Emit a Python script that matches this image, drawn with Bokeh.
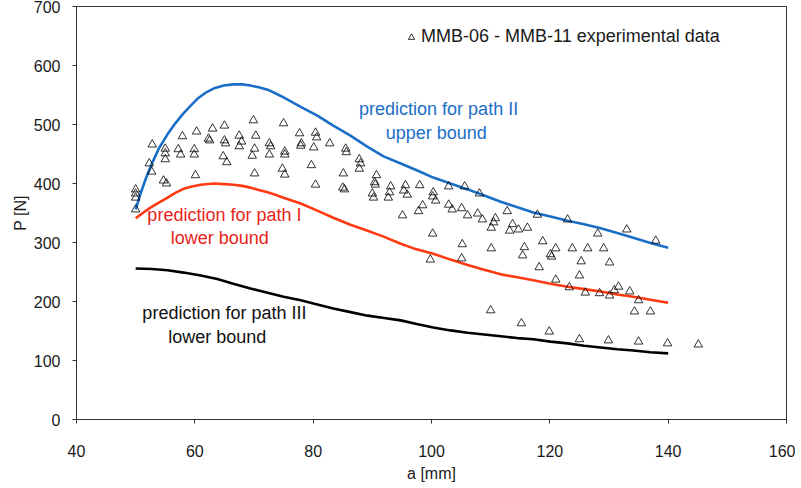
from bokeh.plotting import figure
from bokeh.models import Range1d, FixedTicker, Legend, LegendItem, Label
from bokeh.embed import file_html
from bokeh.resources import INLINE

# ---------------- data ----------------
a_exp = [50.0, 50.0, 50.0, 50.0, 52.8, 52.3, 52.7, 54.7, 55.2, 55.0, 55.0, 55.0,
         57.2, 57.6, 57.9, 59.9, 59.9, 60.3, 60.1, 62.3, 62.5, 63.0, 64.8, 65.4,
         65.0, 65.0, 65.2, 67.5, 67.5, 67.9, 69.9, 70.3, 70.1, 69.7, 70.1, 72.6,
         72.8, 72.6, 75.0, 75.2, 75.2, 74.8, 75.2, 77.7, 78.0, 77.9, 80.4, 80.6,
         80.1, 79.7, 80.4, 82.8, 85.5, 85.6, 85.1, 85.0, 85.3, 87.8, 88.0, 87.8,
         90.7, 90.4, 90.5, 90.0, 90.2, 93.1, 92.9, 92.7, 95.6, 95.3, 95.9, 95.1,
         98.0, 98.5, 97.8, 100.3, 100.2, 100.7, 100.2, 102.9, 102.9, 103.5, 105.1, 106.1,
         105.6, 108.1, 107.8, 108.6, 110.8, 110.5, 110.1, 112.8, 113.7, 113.2, 114.7, 116.2,
         117.9, 123.0, 128.1, 133.0, 137.9, 105.2, 110.1, 115.7, 118.8, 121.0, 123.8, 126.4,
         129.1, 99.8, 105.1, 110.0, 115.2, 119.9, 125.0, 129.9, 135.0, 139.9, 145.1, 115.4,
         120.1, 120.3, 118.2, 125.3, 130.1, 121.0, 125.0, 123.3, 126.0, 128.4, 130.1, 130.9,
         131.6, 133.5, 135.0, 134.3, 137.0]
P_exp = [390, 383, 376, 356, 466, 434, 420, 405, 400, 459, 451, 441,
         458, 449, 480, 458, 449, 488, 414, 476, 473, 493, 446, 436,
         498, 473, 468, 481, 463, 471, 507, 481, 459, 447, 417, 468,
         463, 449, 502, 454, 449, 425, 415, 485, 468, 464, 486, 478,
         461, 431, 398, 468, 459, 453, 417, 393, 390, 441, 434, 425,
         414, 402, 398, 383, 376, 395, 385, 376, 397, 388, 381, 346,
         397, 363, 353, 385, 378, 371, 315, 395, 364, 356, 358, 346,
         395, 383, 349, 339, 341, 334, 325, 353, 331, 320, 322, 325,
         347, 339, 315, 322, 303, 297, 290, 292, 302, 290, 290, 290,
         290, 271, 273, 185, 163, 149, 136, 134, 132, 129, 127, 278,
         280, 276, 258, 268, 266, 237, 244, 224, 215, 214, 210, 219,
         225, 217, 202, 183, 183]

a_path2 = [50.0, 50.8, 51.7, 52.8, 53.9, 55.3, 56.7, 58.0, 59.3, 60.6, 62.0, 63.4,
           64.9, 66.5, 68.0, 69.4, 70.8, 72.3, 73.6, 75.0, 77.9, 80.7, 83.4, 86.3,
           89.2, 91.9, 94.8, 97.6, 100.3, 103.2, 106.1, 108.8, 111.7, 114.4, 117.2, 120.1,
           123.0, 125.8, 128.6, 131.4, 134.1, 137.0, 140.0]
P_path2 = [356, 382, 408, 435, 459, 482, 502, 518, 532, 545, 555, 562,
           566, 568, 568, 566, 563, 559, 553, 546, 530, 515, 498, 481,
           462, 446, 434, 422, 410, 400, 390, 380, 369, 360, 351, 344,
           337, 331, 324, 316, 308, 299, 291]

a_path1 = [50.0, 51.2, 52.5, 54.0, 55.4, 56.7, 58.1, 59.5, 61.0, 63.2, 65.0, 66.5,
           68.0, 69.4, 70.8, 72.3, 73.6, 75.0, 77.9, 80.7, 83.4, 86.3, 89.2, 91.9,
           94.8, 97.0, 100.3, 103.2, 106.1, 108.9, 111.7, 114.5, 117.2, 120.1, 123.0, 125.8,
           128.6, 131.4, 134.1, 137.0, 140.0]
P_path1 = [341, 350, 359, 368, 376, 384, 391, 395, 398, 400, 399, 398,
           396, 393, 389, 385, 381, 376, 366, 354, 342, 330, 320, 310,
           298, 290, 281, 271, 262, 254, 246, 241, 236, 230, 225, 221,
           217, 212, 208, 203, 198]

a_path3 = [50.0, 52.7, 55.4, 58.1, 61.0, 63.8, 66.5, 69.4, 72.3, 75.0, 77.9, 80.7,
           83.4, 86.3, 89.2, 92.0, 94.8, 97.5, 100.3, 103.2, 106.1, 108.9, 111.7, 114.5,
           117.2, 120.1, 123.0, 125.8, 128.6, 131.4, 134.1, 137.0, 140.0]
P_path3 = [256, 255, 253, 249, 244, 238, 230, 222, 215, 208, 202, 195,
           188, 182, 176, 172, 168, 162, 156, 151, 147, 144, 141, 138,
           136, 132, 129, 125, 122, 119, 117, 114, 112]

x_ticks = [40, 60, 80, 100, 120, 140, 160]
y_ticks = [0, 100, 200, 300, 400, 500, 600, 700]

FONT = "Liberation Sans"
BLUE = "#1B6EC6"
RED = "#FF3A12"
RED_TXT = "#E8231C"
AXC = "#333333"

# ---------------- figure ----------------
p = figure(width=795, height=488, x_range=Range1d(40, 160), y_range=Range1d(0, 700),
           output_backend="svg", toolbar_location=None,
           min_border_left=76, min_border_right=9, min_border_top=6, min_border_bottom=69)
p.xgrid.visible = False
p.ygrid.visible = False
p.outline_line_color = AXC
p.outline_line_width = 1
p.background_fill_color = "white"
p.border_fill_color = "white"

p.xaxis.ticker = FixedTicker(ticks=x_ticks)
p.yaxis.ticker = FixedTicker(ticks=y_ticks)
for ax in (p.xaxis, p.yaxis):
    ax.axis_line_color = AXC
    ax.major_tick_line_color = AXC
    ax.major_tick_in = 0
    ax.major_tick_out = 4
    ax.minor_tick_line_color = None
    ax.major_label_text_font = FONT
    ax.major_label_text_font_size = "16px"
    ax.major_label_text_color = "#1a1a1a"
    ax.axis_label_text_font = FONT
    ax.axis_label_text_font_size = "16px"
    ax.axis_label_text_font_style = "normal"
    ax.axis_label_text_color = "#1a1a1a"
p.xaxis.axis_label = "a [mm]"
p.yaxis.axis_label = "P [N]"
p.xaxis.major_label_standoff = 21
p.xaxis.axis_label_standoff = 5
p.yaxis.major_label_standoff = 12
p.yaxis.axis_label_standoff = 2

# curves
p.line(a_path2, P_path2, line_color=BLUE, line_width=2.6)
p.line(a_path1, P_path1, line_color=RED, line_width=2.6)
p.line(a_path3, P_path3, line_color="black", line_width=2.6)

# experimental data
r_exp = p.scatter(a_exp, P_exp, marker="triangle", size=8.5, fill_color=None,
                  line_color="black", line_width=0.8)

legend = Legend(items=[LegendItem(label="MMB-06 - MMB-11 experimental data", renderers=[r_exp])],
                location=(327, 372), border_line_color=None, background_fill_alpha=0,
                padding=0, margin=0, spacing=0, glyph_width=16, glyph_height=20,
                label_height=20, label_standoff=2, label_text_font=FONT,
                label_text_font_size="18px", label_text_color="#1a1a1a")
p.add_layout(legend)

def lab(x, y, t, c):
    p.add_layout(Label(x=x, y=y, text=t, text_align="center", text_baseline="middle",
                       text_color=c, text_font=FONT, text_font_size="18px"))

lab(101.2, 527, "prediction for path II", BLUE)
lab(100.8, 485, "upper bound", BLUE)
lab(65.0, 346, "prediction for path I", RED_TXT)
lab(64.2, 308, "lower bound", RED_TXT)
lab(65.0, 180, "prediction for path III", "#111111")
lab(63.8, 139, "lower bound", "#111111")

open("out.html", "w").write(file_html(p, INLINE))
